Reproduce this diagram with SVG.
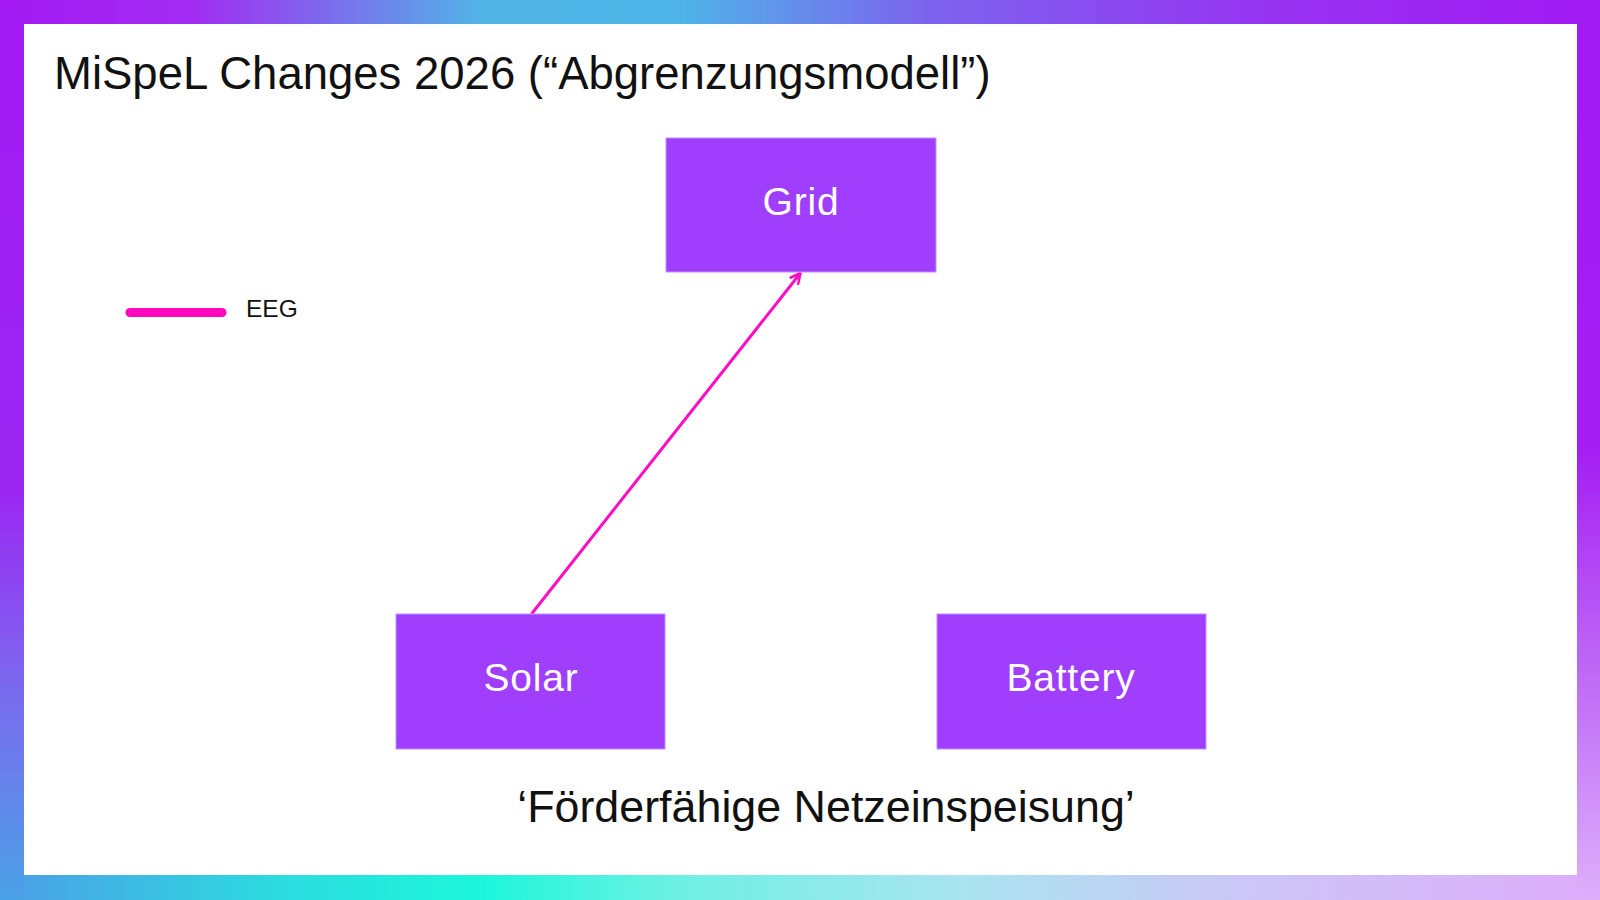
<svg xmlns="http://www.w3.org/2000/svg" width="1600" height="900" viewBox="0 0 1600 900">
  <defs>
    <linearGradient id="gTop" x1="0" y1="0" x2="1" y2="0">
      <stop offset="0" stop-color="#A31AF3"/>
      <stop offset="0.12" stop-color="#A22CF2"/>
      <stop offset="0.3" stop-color="#52B3E6"/>
      <stop offset="0.42" stop-color="#4DB6E8"/>
      <stop offset="0.58" stop-color="#7C64EE"/>
      <stop offset="0.8" stop-color="#9732F1"/>
      <stop offset="1" stop-color="#A21AF4"/>
    </linearGradient>
    <linearGradient id="gBottom" x1="0" y1="0" x2="1" y2="0">
      <stop offset="0" stop-color="#4C9EE6"/>
      <stop offset="0.18" stop-color="#2BDDDF"/>
      <stop offset="0.3" stop-color="#1CF6DA"/>
      <stop offset="0.42" stop-color="#6CF1E3"/>
      <stop offset="0.6" stop-color="#A9E4EF"/>
      <stop offset="0.78" stop-color="#CCC6F6"/>
      <stop offset="1" stop-color="#DDACFB"/>
    </linearGradient>
    <linearGradient id="gLeft" x1="0" y1="0" x2="0" y2="1">
      <stop offset="0" stop-color="#A31AF3"/>
      <stop offset="0.55" stop-color="#9A28F2"/>
      <stop offset="0.75" stop-color="#7D66EE"/>
      <stop offset="1" stop-color="#4BA2E6"/>
    </linearGradient>
    <linearGradient id="gRight" x1="0" y1="0" x2="0" y2="1">
      <stop offset="0" stop-color="#A21AF4"/>
      <stop offset="0.5" stop-color="#A51EF3"/>
      <stop offset="0.72" stop-color="#BB62F5"/>
      <stop offset="1" stop-color="#DDB0FB"/>
    </linearGradient>
    <marker id="arrow" viewBox="0 0 12 12" refX="11" refY="6" markerWidth="12" markerHeight="12" markerUnits="userSpaceOnUse" orient="auto">
      <path d="M1,1 L11,6 L1,11" fill="none" stroke="#FF0DC4" stroke-width="2.5" stroke-linecap="round" stroke-linejoin="round"/>
    </marker>
  </defs>
  <style>
    .node rect { fill: #9F3EFD; stroke: #C28BFF; stroke-width: 1; }
    .node text { font-family: "Liberation Sans", Arial, sans-serif; font-size: 39px; letter-spacing: 0.8px; fill: #FFFFFF; text-anchor: middle; }
    .plain { font-family: "Liberation Sans", Arial, sans-serif; fill: #111111; }
    .edge { fill: none; stroke: #FF0DC4; stroke-width: 3; }
  </style>

  <!-- frame -->
  <g id="frame">
    <rect x="0" y="0" width="1600" height="900" fill="url(#gLeft)"/>
    <rect x="0" y="0" width="1600" height="24" fill="url(#gTop)"/>
    <rect x="0" y="875" width="1600" height="25" fill="url(#gBottom)"/>
    <rect x="1577" y="0" width="23" height="900" fill="url(#gRight)"/>
    <rect x="0" y="0" width="24" height="900" fill="url(#gLeft)"/>
    <rect x="24" y="24" width="1553" height="851" fill="#FFFFFF"/>
  </g>

  <text class="plain" x="54" y="89" font-size="45.5">MiSpeL Changes 2026 (“Abgrenzungsmodell”)</text>

  <!-- legend -->
  <g id="legend">
    <line x1="130" y1="312.5" x2="222" y2="312.5" stroke="#FF07BE" stroke-width="9" stroke-linecap="round"/>
    <text class="plain" x="246" y="317" font-size="24.5">EEG</text>
  </g>

  <!-- connectors -->
  <g id="connectors">
    <line class="edge" x1="531.5" y1="614" x2="800.5" y2="273" marker-end="url(#arrow)"/>
  </g>

  <g id="grid" class="node">
    <rect x="666" y="138" width="270" height="134"/>
    <text x="801" y="215">Grid</text>
  </g>
  <g id="solar" class="node">
    <rect x="396" y="614" width="269" height="135"/>
    <text x="531" y="691">Solar</text>
  </g>
  <g id="battery" class="node">
    <rect x="937" y="614" width="269" height="135"/>
    <text x="1071" y="691">Battery</text>
  </g>

  <text class="plain" x="826" y="822" font-size="44.8" text-anchor="middle">‘Förderfähige Netzeinspeisung’</text>
</svg>
